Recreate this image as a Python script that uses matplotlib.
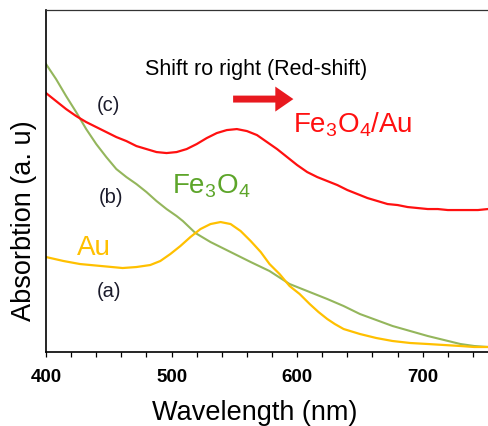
import matplotlib
matplotlib.use('Agg')
import matplotlib.pyplot as plt
from matplotlib.patches import FancyArrowPatch
from matplotlib.ticker import MultipleLocator

plt.rcParams['font.family'] = ['Liberation Sans', 'DejaVu Sans']
plt.rcParams['mathtext.fontset'] = 'custom'
plt.rcParams['mathtext.rm'] = 'Liberation Sans'
plt.rcParams['mathtext.it'] = 'Liberation Sans'

# Absorbance (arbitrary units), one wavelength list per curve
wl_c = [400, 408, 416, 424, 432, 440, 448, 456, 464, 472, 480, 488, 496,
        504, 512, 520, 528, 536, 544, 552, 560, 568, 576, 584, 592, 600,
        608, 616, 624, 632, 640, 648, 656, 664, 672, 680, 688, 696, 704,
        712, 720, 728, 736, 744, 752]
fe3o4_au = [2.59, 2.51, 2.43, 2.36, 2.30, 2.25, 2.20, 2.15, 2.11, 2.06,
            2.03, 2.00, 1.99, 2.00, 2.03, 2.08, 2.14, 2.19, 2.22, 2.23,
            2.21, 2.17, 2.10, 2.03, 1.95, 1.87, 1.80, 1.75, 1.71, 1.67,
            1.62, 1.58, 1.54, 1.51, 1.48, 1.47, 1.45, 1.44, 1.43, 1.43,
            1.42, 1.42, 1.42, 1.42, 1.43]

wl_b = [400, 408, 416, 424, 432, 440, 448, 456, 464, 472, 480, 488, 496,
        504, 509, 519, 531, 547, 563, 578, 594, 610, 624, 637, 650, 663,
        676, 690, 704, 717, 730, 741, 752]
fe3o4 = [2.88, 2.73, 2.56, 2.40, 2.23, 2.08, 1.95, 1.83, 1.75, 1.68,
         1.60, 1.51, 1.43, 1.36, 1.31, 1.19, 1.10, 1.00, 0.90, 0.81,
         0.68, 0.60, 0.53, 0.46, 0.38, 0.32, 0.26, 0.21, 0.16, 0.12,
         0.08, 0.06, 0.05]

wl_a = [400, 414, 427, 444, 461, 472, 483, 491, 499, 507, 515, 523, 531,
        539, 547, 555, 563, 571, 578, 586, 594, 602, 610, 617, 624, 630,
        637, 650, 663, 676, 690, 704, 717, 730, 741, 752]
au = [0.95, 0.91, 0.88, 0.86, 0.84, 0.85, 0.87, 0.91, 0.98, 1.06,
      1.15, 1.23, 1.28, 1.30, 1.28, 1.21, 1.11, 1.00, 0.88, 0.78,
      0.66, 0.58, 0.48, 0.40, 0.33, 0.28, 0.23, 0.18, 0.14, 0.11,
      0.09, 0.08, 0.07, 0.06, 0.05, 0.05]

xticks = [400, 500, 600, 700]

RED = '#FF1010'
GREEN = '#94B65C'
GOLD = '#FFC000'
INK = '#1B1B2B'

fig = plt.figure(figsize=(4.88, 4.27), dpi=100)
ax = fig.add_axes([0.0943, 0.1733, 0.9057, 0.8007])

ax.plot(wl_b, fe3o4, color=GREEN, lw=1.5, solid_joinstyle='round')
ax.plot(wl_a, au, color=GOLD, lw=1.6, solid_joinstyle='round')
ax.plot(wl_c, fe3o4_au, color=RED, lw=1.6, solid_joinstyle='round')

ax.set_xlim(400, 752)
ax.set_ylim(0, 3.42)

ax.set_xticks(xticks)
ax.xaxis.set_minor_locator(MultipleLocator(20))
ax.set_yticks([])
ax.tick_params(axis='x', which='both', direction='out', length=3.5, width=0.9,
               pad=8, labelsize=13.5)
for lab in ax.get_xticklabels():
    lab.set_fontweight('bold')

ax.spines['right'].set_visible(False)
ax.spines['left'].set_linewidth(1.2)
ax.spines['bottom'].set_linewidth(1.2)
ax.spines['top'].set_linewidth(0.9)
ax.spines['top'].set_color('#333333')

ax.set_xlabel('Wavelength (nm)', fontsize=19.5)
ax.xaxis.set_label_coords(0.473, -0.137)
ax.set_ylabel('Absorbtion (a. u)', fontsize=19.5)
ax.yaxis.set_label_coords(-0.02, 0.386)

# annotations (positions in data units)
ax.text(567, 2.78, 'Shift ro right (Red-shift)', fontsize=15.5,
        ha='center', va='baseline', color='black')
ax.text(450, 2.42, '(c)', fontsize=14.5, ha='center', va='baseline', color=INK)
ax.text(452, 1.50, '(b)', fontsize=14.5, ha='center', va='baseline', color=INK)
ax.text(450, 0.56, '(a)', fontsize=14.5, ha='center', va='baseline', color=INK)

ax.text(597, 2.21, r'Fe$_3$O$_4$/Au', fontsize=20, ha='left', va='baseline',
        color=RED)
ax.text(500, 1.60, r'Fe$_3$O$_4$', fontsize=20, ha='left', va='baseline',
        color='#5DA52A')
ax.text(425, 0.98, 'Au', fontsize=20, ha='left', va='baseline', color=GOLD)

arrow = FancyArrowPatch((549, 2.53), (597, 2.53),
                        arrowstyle='simple,head_length=13,head_width=18,tail_width=5',
                        mutation_scale=1, color='#E8191F', lw=0,
                        shrinkA=0, shrinkB=0)
ax.add_patch(arrow)

fig.savefig('out.png', dpi=100)
